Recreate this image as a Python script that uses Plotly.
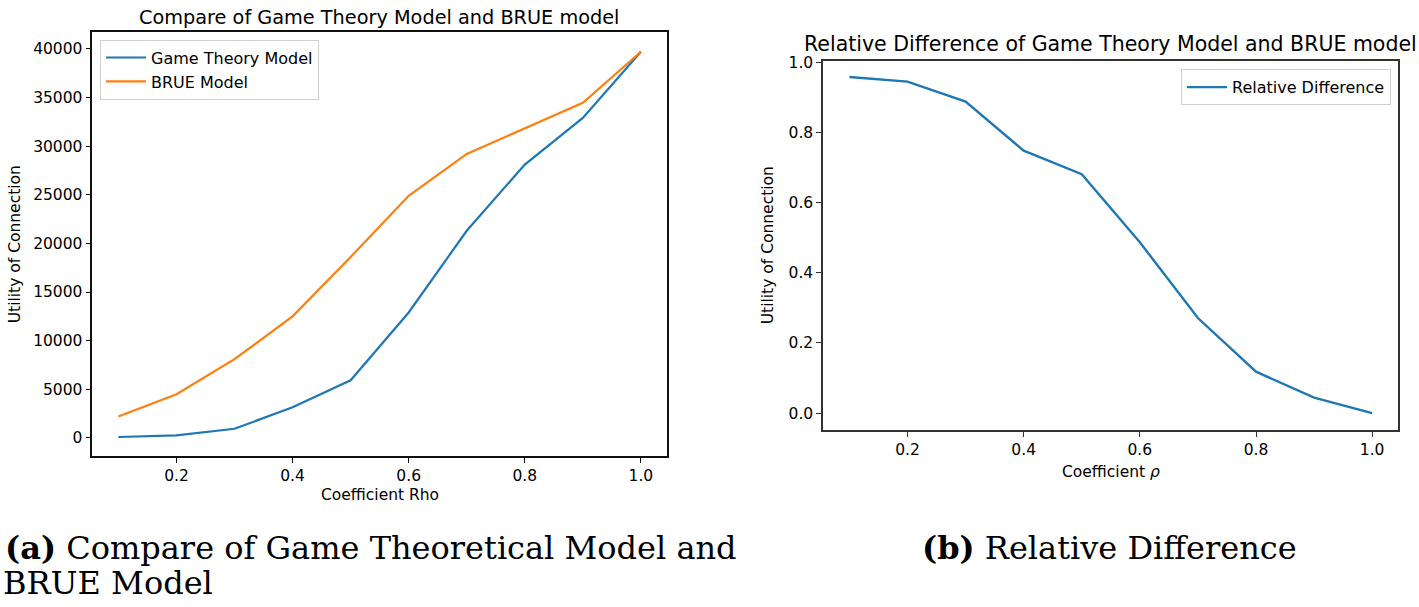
import plotly.graph_objects as go

rho = [0.1, 0.2, 0.3, 0.4, 0.5, 0.6, 0.7, 0.8, 0.9, 1.0]
game_theory = [100, 270, 950, 3150, 5930, 12900, 21300, 28100, 32900, 39700]
brue = [2200, 4500, 8100, 12500, 18600, 24900, 29200, 31850, 34450, 39700]
relative_diff = [0.958, 0.945, 0.888, 0.748, 0.681, 0.487, 0.271, 0.118, 0.044, 0.0]

W, H = 1419, 607
FONT = "DejaVu Sans"
SERIF = "DejaVu Serif"

def px(x):
    return x / W

def py(y):
    return 1 - y / H

fig = go.Figure()
fig.add_trace(go.Scatter(x=rho, y=game_theory, mode="lines", name="Game Theory Model",
                         line=dict(color="#1f77b4", width=2.2), xaxis="x", yaxis="y", legend="legend"))
fig.add_trace(go.Scatter(x=rho, y=brue, mode="lines", name="BRUE Model",
                         line=dict(color="#ff7f0e", width=2.2), xaxis="x", yaxis="y", legend="legend"))
fig.add_trace(go.Scatter(x=rho, y=relative_diff, mode="lines", name="Relative Difference",
                         line=dict(color="#1f77b4", width=2.4), xaxis="x2", yaxis="y2", legend="legend2"))

def axis_common(color, lw):
    return dict(showline=True, mirror=True, linecolor=color, linewidth=lw,
                ticks="outside", ticklen=5, tickcolor=color, tickwidth=1.2,
                showgrid=False, zeroline=False,
                tickfont=dict(family=FONT, size=15.5, color="black"))

xr = [0.055, 1.045]
fig.update_layout(
    width=W, height=H,
    margin=dict(l=0, r=0, t=0, b=0),
    paper_bgcolor="white", plot_bgcolor="white",
    font=dict(family=FONT, color="black"),
    xaxis=dict(domain=[px(92.3), px(667)], range=xr, tickvals=[0.2, 0.4, 0.6, 0.8, 1.0],
               tickformat=".1f", anchor="y", **axis_common("#111111", 1.5)),
    yaxis=dict(domain=[py(454), py(25.7)], range=[-1830, 41690],
               tickvals=[0, 5000, 10000, 15000, 20000, 25000, 30000, 35000, 40000],
               tickformat="d", anchor="x", **axis_common("#111111", 1.5)),
    xaxis2=dict(domain=[px(823.3), px(1398.3)], range=xr, tickvals=[0.2, 0.4, 0.6, 0.8, 1.0],
                tickformat=".1f", anchor="y2", **axis_common("#333333", 2)),
    yaxis2=dict(domain=[py(427.7), py(54.7)], range=[-0.0475, 1.0035],
                tickvals=[0, 0.2, 0.4, 0.6, 0.8, 1.0], tickformat=".1f", anchor="x2",
                **axis_common("#333333", 2)),
    legend=dict(x=px(100), y=py(33), xanchor="left", yanchor="top",
                bgcolor="white", bordercolor="#d0d0d0", borderwidth=1,
                font=dict(family=FONT, size=16, color="black"), itemwidth=40),
    legend2=dict(x=px(1391), y=py(63), xanchor="right", yanchor="top",
                 bgcolor="white", bordercolor="#d0d0d0", borderwidth=1,
                 font=dict(family=FONT, size=16, color="black"), itemwidth=40),
    showlegend=True,
)

ann = []
def text(x, y, s, size, family=FONT, xanchor="center", angle=0):
    ann.append(dict(x=px(x), y=py(y), xref="paper", yref="paper", text=s, showarrow=False,
                    xanchor=xanchor, yanchor="middle", textangle=angle,
                    font=dict(family=family, size=size, color="black")))

text(379, 11, "Compare of Game Theory Model and BRUE model", 19.3)
text(1110, 37, "Relative Difference of Game Theory Model and BRUE model", 20.5)
text(380, 494, "Coefficient Rho", 15.5)
text(1111, 470, "Coefficient <i>ρ</i>", 15.5)
text(15, 240, "Utility of Connection", 15.5, angle=-90)
text(768, 241, "Utility of Connection", 15.5, angle=-90)
text(3, 547, "<b>(a)</b> Compare of Game Theoretical Model and", 32, family=SERIF, xanchor="left")
text(1, 583, "BRUE Model", 32, family=SERIF, xanchor="left")
text(920, 547, "<b>(b)</b> Relative Difference", 32, family=SERIF, xanchor="left")
fig.update_layout(annotations=ann)

fig.write_html("out.html", config={"displayModeBar": False},
               post_script="document.body.style.margin='0';document.body.style.overflow='hidden';")
